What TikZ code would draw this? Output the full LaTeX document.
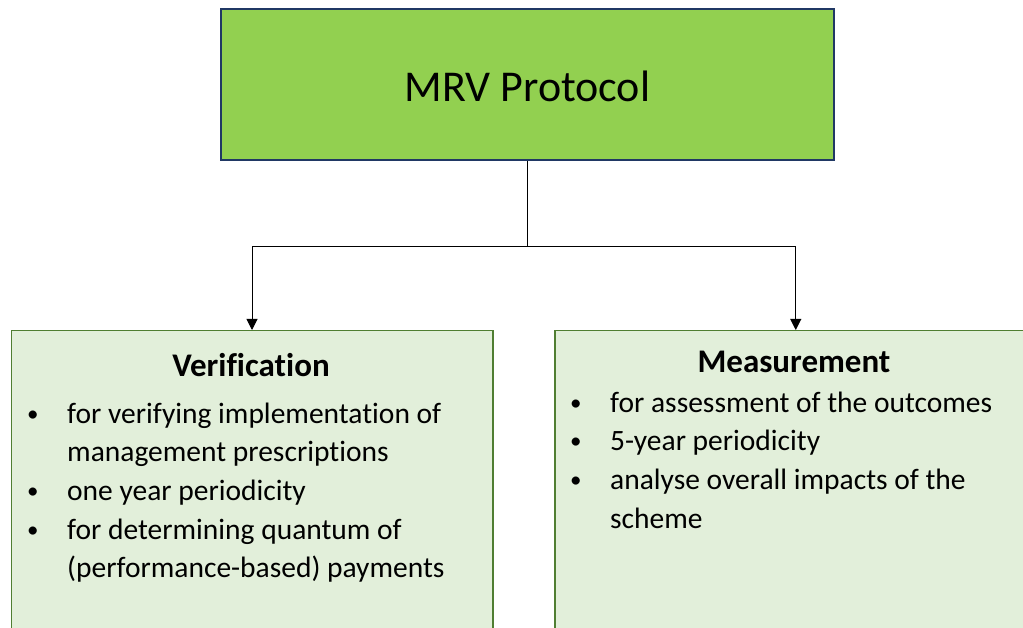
\documentclass[tikz,border=0pt]{standalone}
\usepackage{fontspec}
\setmainfont{Carlito}[Ligatures=NoCommon]
\usetikzlibrary{arrows.meta}
\definecolor{topfill}{HTML}{92D050}
\definecolor{topdraw}{HTML}{203864}
\definecolor{boxfill}{HTML}{E2EFDA}
\definecolor{boxdraw}{HTML}{507E32}
\tikzset{
  topbox/.style={draw=topdraw, line width=2pt, fill=topfill, rectangle, inner sep=0pt},
  lowbox/.style={draw=boxdraw, line width=1.5pt, fill=boxfill, rectangle, inner sep=0pt},
  conn/.style={draw=black, line width=1pt, -{Triangle[length=11pt,width=11pt]}},
  body/.style={anchor=base west, inner sep=0pt, font=\fontsize{29.5}{36}\selectfont},
  bul/.style={anchor=base west, inner sep=0pt, font=\fontsize{23}{28}\selectfont, yshift=2pt},
  head/.style={anchor=base, inner sep=0pt, font=\fontsize{33}{40}\selectfont\bfseries},
}
\begin{document}
\begin{tikzpicture}[x=1pt,y=-1pt]
\useasboundingbox (0,0) rectangle (1023,628);
\clip (0,0) rectangle (1023,628);
\fill[white] (0,0) rectangle (1023,628);
\node[topbox, minimum width=613pt, minimum height=151pt] (top) at (527.5,85) {};
\node[anchor=base, inner sep=0pt, font=\fontsize{44}{50}\selectfont] (title) at (527.5,102) {MRV Protocol};
\node[lowbox, minimum width=481.5pt, minimum height=340pt, anchor=north west] (ver) at (10.5,330) {};
\node[lowbox, minimum width=482pt, minimum height=340pt, anchor=north west] (mea) at (554,330) {};
\draw[conn] (top.south) -- ++(0,85) -| (ver.north);
\draw[conn] (top.south) -- ++(0,85) -| (mea.north);
% Verification
\node[head] (vh) at (251,376) {Verification};
\node[bul] (vb1) at (27,423) {•};
\node[body] (vt1) at (67,423) {for verifying implementation of};
\node[body] (vt1b) at (67,461.7) {management prescriptions};
\node[bul] (vb2) at (27,500.4) {•};
\node[body] (vt2) at (67,500.4) {one year periodicity};
\node[bul] (vb3) at (27,539.1) {•};
\node[body] (vt3) at (67,539.1) {for determining quantum of};
\node[body] (vt3b) at (67,577.8) {(performance-based) payments};
% Measurement
\node[head] (mh) at (794,372) {Measurement};
\node[bul] (mb1) at (570,412) {•};
\node[body] (mt1) at (610,412) {for assessment of the outcomes};
\node[bul] (mb2) at (570,450.7) {•};
\node[body] (mt2) at (610,450.7) {5-year periodicity};
\node[bul] (mb3) at (570,489.4) {•};
\node[body] (mt3) at (610,489.4) {analyse overall impacts of the};
\node[body] (mt3b) at (610,528.1) {scheme};
\end{tikzpicture}
\end{document}
